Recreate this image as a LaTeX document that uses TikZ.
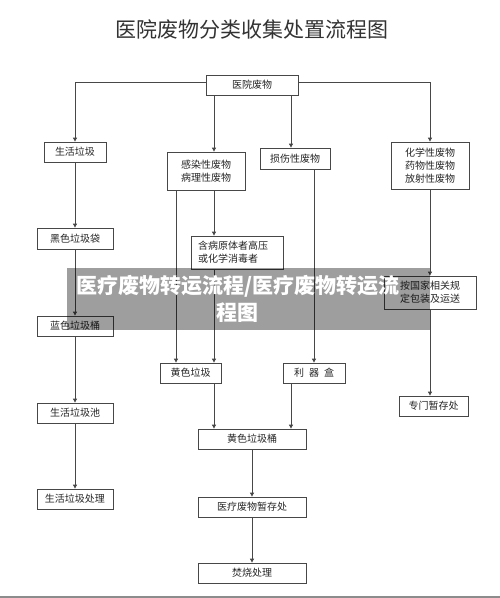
\documentclass[tikz,border=0pt]{standalone}
\usepackage{fontspec}
\setmainfont{Noto Sans CJK SC}
\usetikzlibrary{arrows.meta}
\begin{document}
\begin{tikzpicture}[x=1pt,y=-1pt,
  box/.style={draw=black!72, line width=0.8pt, fill=white, inner sep=0pt,
    font=\fontsize{10}{13}\selectfont, align=center, text=black!85},
  arr/.style={draw=black!72, line width=0.9pt, -{Triangle[length=4pt,width=4pt]}},
  ln/.style={draw=black!72, line width=0.9pt}]
\useasboundingbox (0,0) rectangle (500,598);
% title
\node[font=\fontsize{21}{25}\selectfont, text=black!80] (title) at (252,29) {医院废物分类收集处置流程图};
% column x coordinates
\coordinate (colA) at (176,0);
\coordinate (colB) at (214,0);
\coordinate (colC) at (291,0);
\coordinate (colD) at (314,0);
% boxes
\node[box, minimum width=92, minimum height=20] (top) at (252,85) {医院废物};
\node[box, minimum width=62, minimum height=20] (a1) at (75,152) {生活垃圾};
\node[box, minimum width=78, minimum height=38] (b1) at (206,171) {感染性废物\\病理性废物};
\node[box, minimum width=70, minimum height=21] (c1) at (295,158.5) {损伤性废物};
\node[box, minimum width=78, minimum height=47] (d1) at (430,165.5) {化学性废物\\药物性废物\\放射性废物};
\node[box, minimum width=76, minimum height=21] (a2) at (75,238.5) {黑色垃圾袋};
\node[box, minimum height=33, text width=78, inner xsep=7pt, align=left] (b2) at (237,252.5) {含病原体者高压\\或化学消毒者};
\node[box, minimum width=92, minimum height=33] (d2) at (430,292.5) {按国家相关规\\定包装及运送};
\node[box, minimum width=76, minimum height=20] (a3) at (75,326) {蓝色垃圾桶};
\node[box, minimum width=61, minimum height=20] (b3) at (190.5,373) {黄色垃圾};
\node[box, minimum width=62, minimum height=20] (c3) at (314,373) {利\hspace{0.5em}器\hspace{0.5em}盒};
\node[box, minimum width=69, minimum height=20] (d3) at (433.5,406) {专门暂存处};
\node[box, minimum width=76, minimum height=20] (a4) at (75,413) {生活垃圾池};
\node[box, minimum width=108, minimum height=20] (e1) at (252,439) {黄色垃圾桶};
\node[box, minimum width=76, minimum height=20] (a5) at (75,499) {生活垃圾处理};
\node[box, minimum width=108, minimum height=20] (e2) at (252,507) {医疗废物暂存处};
\node[box, minimum width=108, minimum height=20] (e3) at (252,573) {焚烧处理};
% connectors
\draw[arr] ([yshift=3pt]top.west) -| (a1.north);
\draw[arr] ([yshift=3pt]top.east) -| (d1.north);
\draw[arr] (top.south -| colB) -- (b1.north -| colB);
\draw[arr] (top.south -| colC) -- (c1.north -| colC);
\draw[arr] (a1) -- (a2);
\draw[arr] (a2) -- (a3);
\draw[arr] (a3) -- (a4);
\draw[arr] (a4) -- (a5);
\draw[arr] (b1.south -| colA) -- (b3.north -| colA);
\draw[arr] (b1.south -| colB) -- (b2.north -| colB);
\draw[arr] (b2.south -| colB) -- (b3.north -| colB);
\draw[arr] (c1.south -| colD) -- (c3.north -| colD);
\draw[arr] (d1) -- (d2);
\draw[arr] (d2.south) -- (d3.north -| d2.south);
\draw[arr] (b3.south -| colB) -- (e1.north -| colB);
\draw[arr] (c3.south -| colC) -- (e1.north -| colC);
\draw[arr] (e1) -- (e2);
\draw[arr] (e2) -- (e3);
% watermark banner
\node[fill=black, fill opacity=0.38, inner sep=0pt, minimum width=363, minimum height=62] (banner) at (248.5,299) {};
\node[text=white, font=\fontsize{21}{27}\selectfont\bfseries, align=center] (wm) at (238,298.5) {医疗废物转运流程/医疗废物转运流\\程图};
% bottom rule
\draw[black!45, line width=1.5pt] (0,597) -- (500,597);
\end{tikzpicture}
\end{document}
